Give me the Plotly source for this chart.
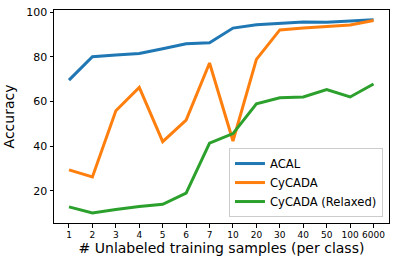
import plotly.graph_objects as go

categories = ["1", "2", "3", "4", "5", "6", "7", "10", "20", "30", "40", "50", "100", "6000"]
acal = [69.5, 80.0, 80.8, 81.4, 83.6, 85.8, 86.2, 92.8, 94.3, 95.0, 95.5, 95.4, 96.0, 96.5]
cycada = [29.4, 26.2, 55.8, 66.3, 42.0, 51.6, 77.2, 42.3, 78.8, 92.0, 92.8, 93.6, 94.2, 96.2]
cycada_relaxed = [12.8, 10.1, 11.6, 13.0, 14.0, 19.0, 41.3, 45.6, 58.9, 61.6, 62.0, 65.3, 62.0, 67.8]
y_ticks = [20, 40, 60, 80, 100]

fig = go.Figure()
for name, vals, color in [("ACAL", acal, "#1f77b4"),
                          ("CyCADA", cycada, "#ff7f0e"),
                          ("CyCADA (Relaxed)", cycada_relaxed, "#2ca02c")]:
    fig.add_trace(go.Scatter(x=categories, y=vals, mode="lines", name=name,
                             line=dict(color=color, width=3)))

fig.update_layout(
    width=397, height=259,
    margin=dict(l=54, r=8, t=6, b=36),
    paper_bgcolor="white", plot_bgcolor="white",
    font=dict(family="DejaVu Sans", color="black"),
    showlegend=True,
    legend=dict(x=0.982, y=0.028, xanchor="right", yanchor="bottom",
                bgcolor="white", bordercolor="#cccccc", borderwidth=1,
                font=dict(size=11.6), itemwidth=30, tracegroupgap=0),
)
fig.update_xaxes(type="category", range=[-0.64, 13.66],
                 showline=True, linecolor="black", linewidth=1, mirror=True,
                 ticks="outside", ticklen=3.5, tickcolor="black",
                 showgrid=False, zeroline=False,
                 tickfont=dict(size=9),
                 title=dict(text="# Unlabeled training samples (per class)", font=dict(size=14), standoff=3))
fig.update_yaxes(range=[5.6, 100.9], tickvals=y_ticks,
                 showline=True, linecolor="black", linewidth=1, mirror=True,
                 ticks="outside", ticklen=3.5, tickcolor="black",
                 showgrid=False, zeroline=False,
                 tickfont=dict(size=11),
                 title=dict(text="Accuracy", font=dict(size=14), standoff=8))

fig.write_html("out.html", config={"displayModeBar": False},
               post_script="document.body.style.margin='0';")
